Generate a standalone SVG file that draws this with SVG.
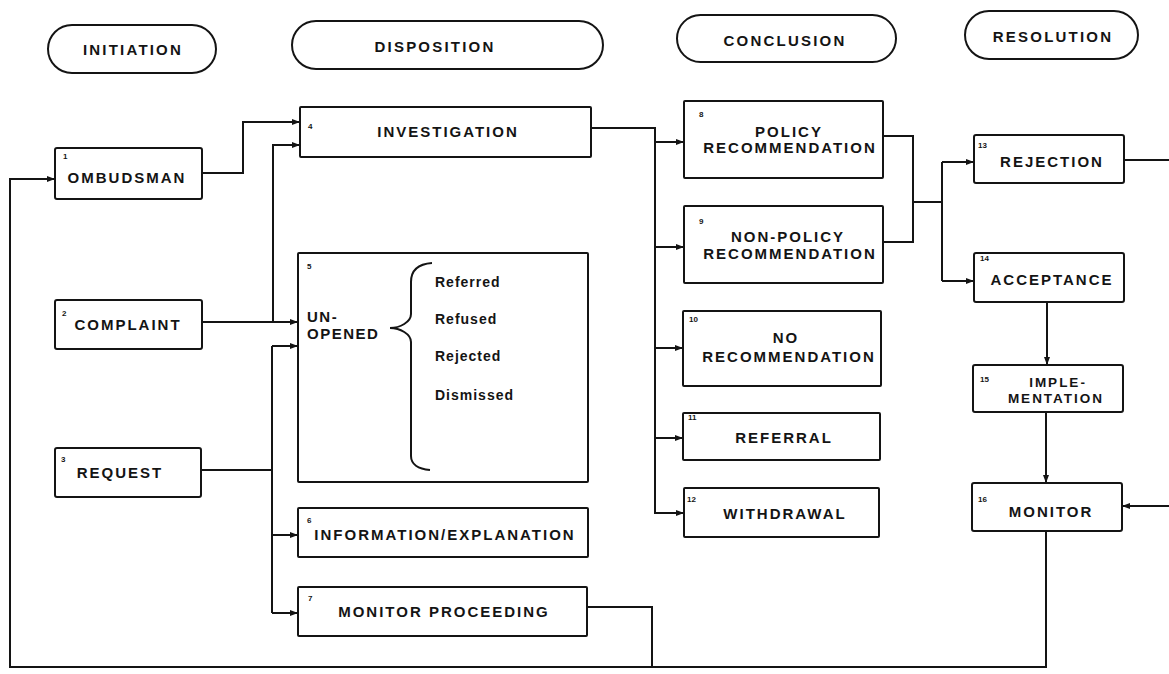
<svg xmlns="http://www.w3.org/2000/svg" width="1169" height="674" viewBox="0 0 1169 674">
<style>
.box{fill:#fff;stroke:#141414;stroke-width:2}
.pill{fill:#fff;stroke:#141414;stroke-width:2}
.hd{font-family:"Liberation Sans",Arial,sans-serif;font-weight:bold;font-size:15px;letter-spacing:2.2px;fill:#141414;text-anchor:middle}
.t{font-family:"Liberation Sans",Arial,sans-serif;font-weight:bold;font-size:15px;letter-spacing:2px;fill:#141414;text-anchor:middle}
.t2{font-family:"Liberation Sans",Arial,sans-serif;font-weight:bold;font-size:13.5px;letter-spacing:2px;fill:#141414;text-anchor:middle}
.ts{font-family:"Liberation Sans",Arial,sans-serif;font-weight:bold;font-size:15px;letter-spacing:1.5px;fill:#141414}
.n{font-family:"Liberation Sans",Arial,sans-serif;font-weight:bold;font-size:8px;fill:#141414}
.sub{font-family:"Liberation Sans",Arial,sans-serif;font-weight:bold;font-size:14px;letter-spacing:1px;fill:#141414}
.c{fill:none;stroke:#141414;stroke-width:2}
.a{marker-end:url(#arr)}
</style>
<defs>
<marker id="arr" viewBox="0 0 8 6" refX="8" refY="3" markerWidth="8" markerHeight="6" markerUnits="userSpaceOnUse" orient="auto">
<path d="M0,0 L8,3 L0,6 z" fill="#141414"/>
</marker>
</defs>
<rect width="1169" height="674" fill="#fff"/>

<g id="headers">
<g id="h-initiation"><rect class="pill" x="48" y="25" width="168" height="48" rx="24"/><text class="hd" x="133" y="55">INITIATION</text></g>
<g id="h-disposition"><rect class="pill" x="292" y="21" width="311" height="48" rx="24"/><text class="hd" x="435" y="52">DISPOSITION</text></g>
<g id="h-conclusion"><rect class="pill" x="677" y="15" width="219" height="47" rx="23.5"/><text class="hd" x="785" y="46">CONCLUSION</text></g>
<g id="h-resolution"><rect class="pill" x="965" y="11" width="173" height="48" rx="24"/><text class="hd" x="1053" y="42">RESOLUTION</text></g>
</g>

<g id="connectors">
<path class="c a" d="M1046,531 V667 H10 V179 H55"/>
<path class="c" d="M587,607 H652 V667"/>
<path class="c a" d="M202,173 H243 V122 H300"/>
<path class="c a" d="M202,322 H298"/>
<path class="c a" d="M273,322 V145 H300"/>
<path class="c" d="M201,470 H272"/>
<path class="c" d="M272,346 V613"/>
<path class="c a" d="M272,346 H298"/>
<path class="c a" d="M272,535 H298"/>
<path class="c a" d="M272,613 H298"/>
<path class="c a" d="M591,128 H655 V513 H684"/>
<path class="c a" d="M655,142 H684"/>
<path class="c a" d="M655,247 H684"/>
<path class="c a" d="M655,348 H683"/>
<path class="c a" d="M655,438 H683"/>
<path class="c" d="M883,136 H913 V242 H883"/>
<path class="c" d="M913,202 H942"/>
<path class="c" d="M942,162 V281"/>
<path class="c a" d="M942,162 H974"/>
<path class="c a" d="M942,281 H974"/>
<path class="c" d="M1124,160 H1169"/>
<path class="c a" d="M1047,302 V365"/>
<path class="c a" d="M1046,412 V483"/>
<path class="c a" d="M1169,506 H1122"/>
</g>

<g id="n1"><rect class="box" x="55" y="148" width="147" height="51" rx="2"/><text class="n" x="63" y="159">1</text><text class="t" x="127" y="183">OMBUDSMAN</text></g>
<g id="n2"><rect class="box" x="55" y="300" width="147" height="49" rx="2"/><text class="n" x="62" y="316">2</text><text class="t" x="128" y="330">COMPLAINT</text></g>
<g id="n3"><rect class="box" x="55" y="448" width="146" height="49" rx="2"/><text class="n" x="61" y="462">3</text><text class="t" x="120" y="478">REQUEST</text></g>

<g id="n4"><rect class="box" x="300" y="107" width="291" height="50" rx="1"/><text class="n" x="308" y="129">4</text><text class="t" x="448" y="137">INVESTIGATION</text></g>
<g id="n5"><rect class="box" x="298" y="253" width="290" height="229" rx="1"/><text class="n" x="307" y="269">5</text>
<text class="ts" x="307" y="322">UN-</text><text class="ts" x="307" y="339">OPENED</text>
<path class="c" d="M432,263 C418,264 411,270 411,282 V314 C411,322 400,328 390,328 C400,328 411,334 411,342 V456 C411,464 418,469 430,470"/>
<text class="sub" x="435" y="287">Referred</text>
<text class="sub" x="435" y="324">Refused</text>
<text class="sub" x="435" y="361">Rejected</text>
<text class="sub" x="435" y="400">Dismissed</text>
</g>
<g id="n6"><rect class="box" x="298" y="508" width="290" height="49" rx="1"/><text class="n" x="307" y="523">6</text><text class="t" x="445" y="540">INFORMATION/EXPLANATION</text></g>
<g id="n7"><rect class="box" x="298" y="587" width="289" height="49" rx="1"/><text class="n" x="308" y="601">7</text><text class="t" x="444" y="617">MONITOR PROCEEDING</text></g>

<g id="n8"><rect class="box" x="684" y="101" width="199" height="77" rx="1"/><text class="n" x="699" y="117">8</text><text class="t" x="789" y="137">POLICY</text><text class="t" x="790" y="153">RECOMMENDATION</text></g>
<g id="n9"><rect class="box" x="684" y="206" width="199" height="77" rx="1"/><text class="n" x="699" y="224">9</text><text class="t" x="788" y="242">NON-POLICY</text><text class="t" x="790" y="259">RECOMMENDATION</text></g>
<g id="n10"><rect class="box" x="683" y="311" width="198" height="75" rx="1"/><text class="n" x="689" y="322">10</text><text class="t" x="786" y="343">NO</text><text class="t" x="789" y="362">RECOMMENDATION</text></g>
<g id="n11"><rect class="box" x="683" y="413" width="197" height="47" rx="1"/><text class="n" x="688" y="420">11</text><text class="t" x="784" y="443">REFERRAL</text></g>
<g id="n12"><rect class="box" x="684" y="488" width="195" height="49" rx="1"/><text class="n" x="687" y="502">12</text><text class="t" x="785" y="519">WITHDRAWAL</text></g>

<g id="n13"><rect class="box" x="974" y="135" width="150" height="48" rx="2"/><text class="n" x="978" y="148">13</text><text class="t" x="1052" y="167">REJECTION</text></g>
<g id="n14"><rect class="box" x="974" y="253" width="150" height="49" rx="2"/><text class="n" x="980" y="261">14</text><text class="t" x="1052" y="285">ACCEPTANCE</text></g>
<g id="n15"><rect class="box" x="973" y="365" width="150" height="47" rx="2"/><text class="n" x="980" y="382">15</text><text class="t2" x="1058" y="387">IMPLE-</text><text class="t2" x="1056" y="403">MENTATION</text></g>
<g id="n16"><rect class="box" x="972" y="483" width="150" height="48" rx="2"/><text class="n" x="978" y="502">16</text><text class="t" x="1051" y="517">MONITOR</text></g>
</svg>
